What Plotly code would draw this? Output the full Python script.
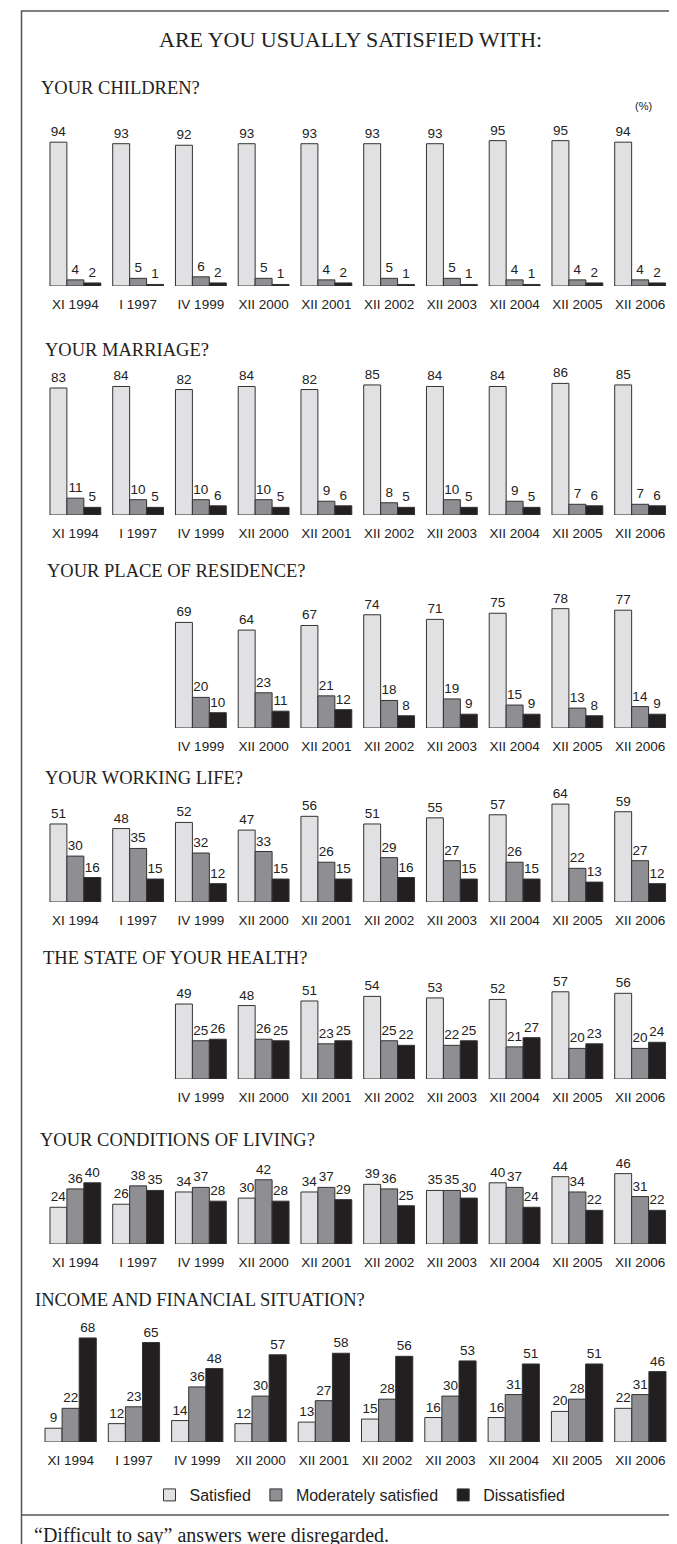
import plotly.graph_objects as go

# survey waves
periods = ["XI 1994", "I 1997", "IV 1999", "XII 2000", "XII 2001",
           "XII 2002", "XII 2003", "XII 2004", "XII 2005", "XII 2006"]

series_names = ["Satisfied", "Moderately satisfied", "Dissatisfied"]

# values in %, (satisfied, moderately satisfied, dissatisfied)
children_sat = [94, 93, 92, 93, 93, 93, 93, 95, 95, 94]
children_mod = [4, 5, 6, 5, 4, 5, 5, 4, 4, 4]
children_dis = [2, 1, 2, 1, 2, 1, 1, 1, 2, 2]

marriage_sat = [83, 84, 82, 84, 82, 85, 84, 84, 86, 85]
marriage_mod = [11, 10, 10, 10, 9, 8, 10, 9, 7, 7]
marriage_dis = [5, 5, 6, 5, 6, 5, 5, 5, 6, 6]

# residence and health were only asked from IV 1999 on
residence_sat = [69, 64, 67, 74, 71, 75, 78, 77]
residence_mod = [20, 23, 21, 18, 19, 15, 13, 14]
residence_dis = [10, 11, 12, 8, 9, 9, 8, 9]

working_sat = [51, 48, 52, 47, 56, 51, 55, 57, 64, 59]
working_mod = [30, 35, 32, 33, 26, 29, 27, 26, 22, 27]
working_dis = [16, 15, 12, 15, 15, 16, 15, 15, 13, 12]

health_sat = [49, 48, 51, 54, 53, 52, 57, 56]
health_mod = [25, 26, 23, 25, 22, 21, 20, 20]
health_dis = [26, 25, 25, 22, 25, 27, 23, 24]

living_sat = [24, 26, 34, 30, 34, 39, 35, 40, 44, 46]
living_mod = [36, 38, 37, 42, 37, 36, 35, 37, 34, 31]
living_dis = [40, 35, 28, 28, 29, 25, 30, 24, 22, 22]

income_sat = [9, 12, 14, 12, 13, 15, 16, 16, 20, 22]
income_mod = [22, 23, 36, 30, 27, 28, 30, 31, 28, 31]
income_dis = [68, 65, 48, 57, 58, 56, 53, 51, 51, 46]

panels = [
    ("YOUR CHILDREN?", children_sat, children_mod, children_dis),
    ("YOUR MARRIAGE?", marriage_sat, marriage_mod, marriage_dis),
    ("YOUR PLACE OF RESIDENCE?", residence_sat, residence_mod, residence_dis),
    ("YOUR WORKING LIFE?", working_sat, working_mod, working_dis),
    ("THE STATE OF YOUR HEALTH?", health_sat, health_mod, health_dis),
    ("YOUR CONDITIONS OF LIVING?", living_sat, living_mod, living_dis),
    ("INCOME AND FINANCIAL SITUATION?", income_sat, income_mod, income_dis),
]

# ---- layout (pixels) ----
W, H = 677, 1544
PX_PER_PCT = 1.53
colors = ["#e1e1e3", "#8f8f93", "#231f20"]
SANS = "Liberation Sans, Arial, sans-serif"
SERIF = "Liberation Serif, Times New Roman, serif"

baselines = [278, 507, 720, 894, 1071, 1236, 1434]
y_max = [100, 90, 80, 70, 60, 50, 70]
x_spans = [(36, 663.5)] * 6 + [(31, 664)]
title_y = [80, 342, 563, 770, 950, 1132, 1292]
title_x = [31, 35, 37, 35, 33, 30, 25]


def py(px):
    return 1 - px / H


fig = go.Figure()
annotations = []

for k, (title, sat, mod, dis) in enumerate(panels, start=1):
    start = len(periods) - len(sat)
    xs = list(range(start, len(periods)))
    for name, vals, col in zip(series_names, (sat, mod, dis), colors):
        fig.add_trace(go.Bar(
            x=xs, y=vals, name=name,
            marker=dict(color=col, line=dict(color="#333333", width=1)),
            text=vals, textposition="outside", constraintext="none",
            cliponaxis=False,
            textfont=dict(family=SANS, size=13.5, color="#222222"),
            xaxis=f"x{k}", yaxis=f"y{k}",
            legendgroup=name, showlegend=(k == 1),
        ))

    b = baselines[k - 1]
    top = b - y_max[k - 1] * PX_PER_PCT
    x0, x1 = x_spans[k - 1]
    fig.layout[f"xaxis{k}"] = dict(
        domain=[x0 / W, x1 / W], range=[-0.5, len(periods) - 0.5],
        tickmode="array", tickvals=xs, ticktext=periods[start:],
        showgrid=False, zeroline=False, showline=False, ticks="",
        ticklabelstandoff=8,
        tickfont=dict(family=SANS, size=13.5, color="#222222"),
        anchor=f"y{k}", fixedrange=True,
    )
    fig.layout[f"yaxis{k}"] = dict(
        domain=[py(b), py(top)], range=[0, y_max[k - 1]],
        visible=False, anchor=f"x{k}", fixedrange=True,
    )
    annotations.append(dict(
        text=title, x=title_x[k - 1] / W, y=py(title_y[k - 1]),
        xref="paper", yref="paper", xanchor="left", yanchor="middle",
        showarrow=False, font=dict(family=SERIF, size=18.5, color="#222222"),
    ))

annotations += [
    dict(text="ARE YOU USUALLY SATISFIED WITH:", x=342 / W, y=py(32),
         xref="paper", yref="paper", xanchor="center", yanchor="middle",
         showarrow=False, font=dict(family=SERIF, size=22, color="#222222")),
    dict(text="(%)", x=635 / W, y=py(98), xref="paper", yref="paper",
         xanchor="center", yanchor="middle", showarrow=False,
         font=dict(family=SANS, size=11, color="#222222")),
    dict(text="\u201cDifficult to say\u201d answers were disregarded.",
         x=24 / W, y=py(1527), xref="paper", yref="paper",
         xanchor="left", yanchor="middle", showarrow=False,
         font=dict(family=SERIF, size=20, color="#222222")),
]

shapes = [
    dict(type="rect", xref="paper", yref="paper",
         x0=13.5 / W, x1=670 / W, y0=py(1542), y1=py(3),
         line=dict(color="#555555", width=1.5)),
    dict(type="line", xref="paper", yref="paper",
         x0=13.5 / W, x1=670 / W, y0=py(1507), y1=py(1507),
         line=dict(color="#555555", width=1.5)),
]

fig.update_layout(
    width=W, height=H,
    margin=dict(l=0, r=0, t=0, b=0),
    barmode="group", bargap=0.19, bargroupgap=0,
    paper_bgcolor="white", plot_bgcolor="rgba(0,0,0,0)",
    annotations=annotations, shapes=shapes,
    legend=dict(orientation="h", x=352 / W, xanchor="center",
                y=py(1487), yanchor="middle",
                font=dict(family=SANS, size=16, color="#222222"),
                itemwidth=30, tracegroupgap=0),
    font=dict(family=SANS),
)

fig.write_html("out.html")
